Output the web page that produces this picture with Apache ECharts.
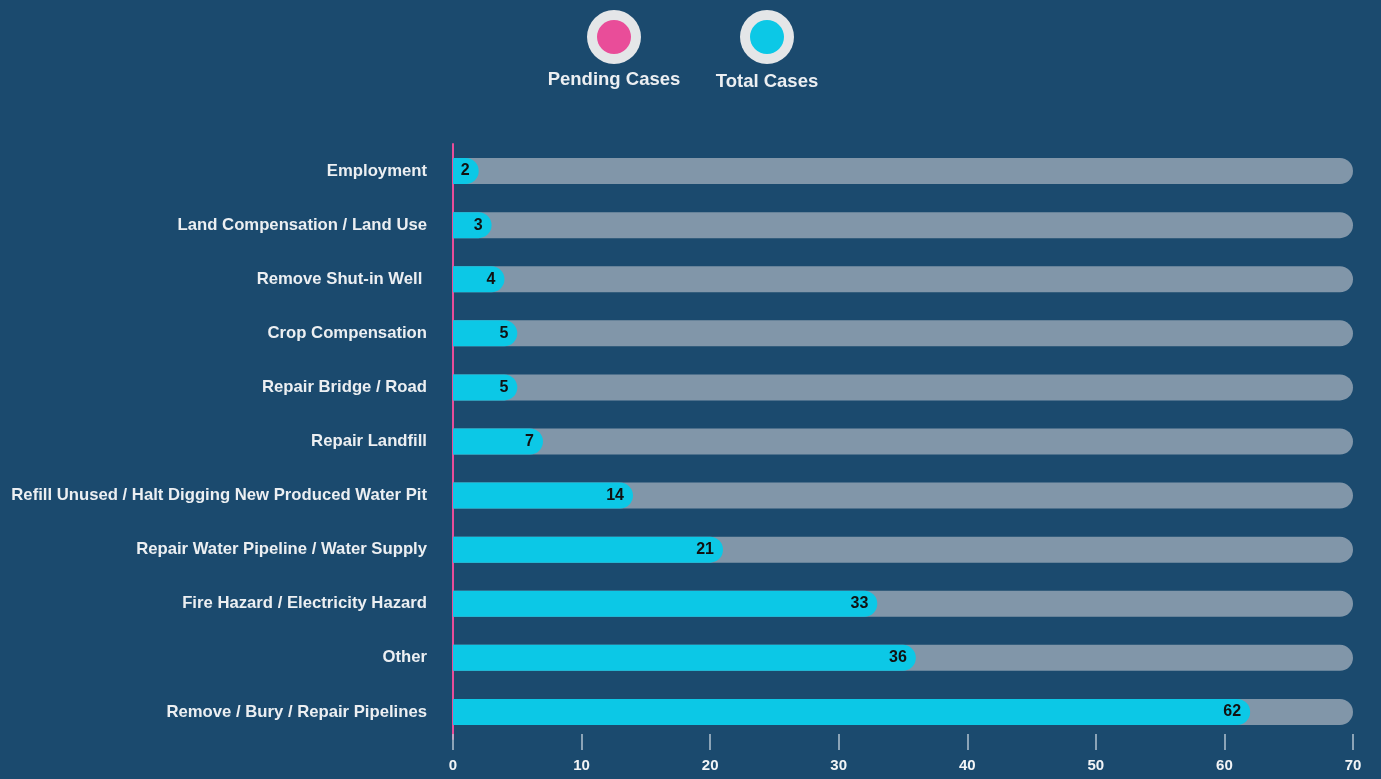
<!DOCTYPE html>
<html>
<head>
<meta charset="utf-8">
<script src="https://cdn.jsdelivr.net/npm/echarts@6/dist/echarts.min.js"></script>
<style>
html,body{margin:0;padding:0;background:#1b4a6e;}
#chart{width:1381px;height:779px;}
</style>
</head>
<body>
<div id="chart"></div>
<script>
const categories = [
  "Employment",
  "Land Compensation / Land Use",
  "Remove Shut-in Well ",
  "Crop Compensation",
  "Repair Bridge / Road",
  "Repair Landfill",
  "Refill Unused / Halt Digging New Produced Water Pit",
  "Repair Water Pipeline / Water Supply",
  "Fire Hazard / Electricity Hazard",
  "Other",
  "Remove / Bury / Repair Pipelines"
];
const totalCases = [2, 3, 4, 5, 5, 7, 14, 21, 33, 36, 62];
const legendNames = ["Pending Cases", "Total Cases"];
const xTicks = [0, 10, 20, 30, 40, 50, 60, 70];

const FONT = "Liberation Sans, Arial, sans-serif";
const chart = echarts.init(document.getElementById('chart'));

function legendItem(cx, cy, color, name, textY) {
  return [
    { type: 'circle', shape: { cx: cx, cy: cy, r: 27 }, style: { fill: '#e4e6e8' } },
    { type: 'circle', shape: { cx: cx, cy: cy, r: 17 }, style: { fill: color } },
    { type: 'text', x: cx, y: textY, style: { text: name, fill: '#eceff2', font: 'bold 18.5px ' + FONT, align: 'center', verticalAlign: 'middle' } }
  ];
}

chart.setOption({
  backgroundColor: '#1b4a6e',
  animation: false,
  graphic: [].concat(
    legendItem(614, 37, '#e94d99', legendNames[0], 80),
    legendItem(767, 37, '#0cc8e6', legendNames[1], 82)
  ),
  grid: { left: 453, right: 28, top: 144, bottom: 40, containLabel: false },
  xAxis: {
    type: 'value',
    min: xTicks[0],
    max: xTicks[xTicks.length - 1],
    interval: 10,
    offset: -5,
    axisLine: { show: false },
    splitLine: { show: false },
    axisTick: { show: true, length: 16, lineStyle: { color: '#b3c2cf', width: 1.5 } },
    axisLabel: { color: '#f2f4f6', fontFamily: FONT, fontWeight: 'bold', fontSize: 15, margin: 24 }
  },
  yAxis: {
    type: 'category',
    data: categories,
    inverse: true,
    axisLine: { show: true, lineStyle: { color: '#e94d99', width: 2 } },
    axisTick: { show: false },
    axisLabel: { color: '#eceff2', fontFamily: FONT, fontWeight: 'bold', fontSize: 16.7, margin: 26 }
  },
  series: [{
    name: legendNames[1],
    type: 'bar',
    data: totalCases,
    barWidth: 26,
    showBackground: true,
    backgroundStyle: { color: '#8196a9', borderRadius: [0, 13, 13, 0] },
    itemStyle: { color: '#0cc8e6', borderRadius: [0, 13, 13, 0] },
    label: {
      show: true,
      position: 'insideRight',
      distance: 9,
      color: '#111111',
      fontFamily: FONT,
      fontWeight: 'bold',
      fontSize: 16
    }
  }]
});
</script>
</body>
</html>
